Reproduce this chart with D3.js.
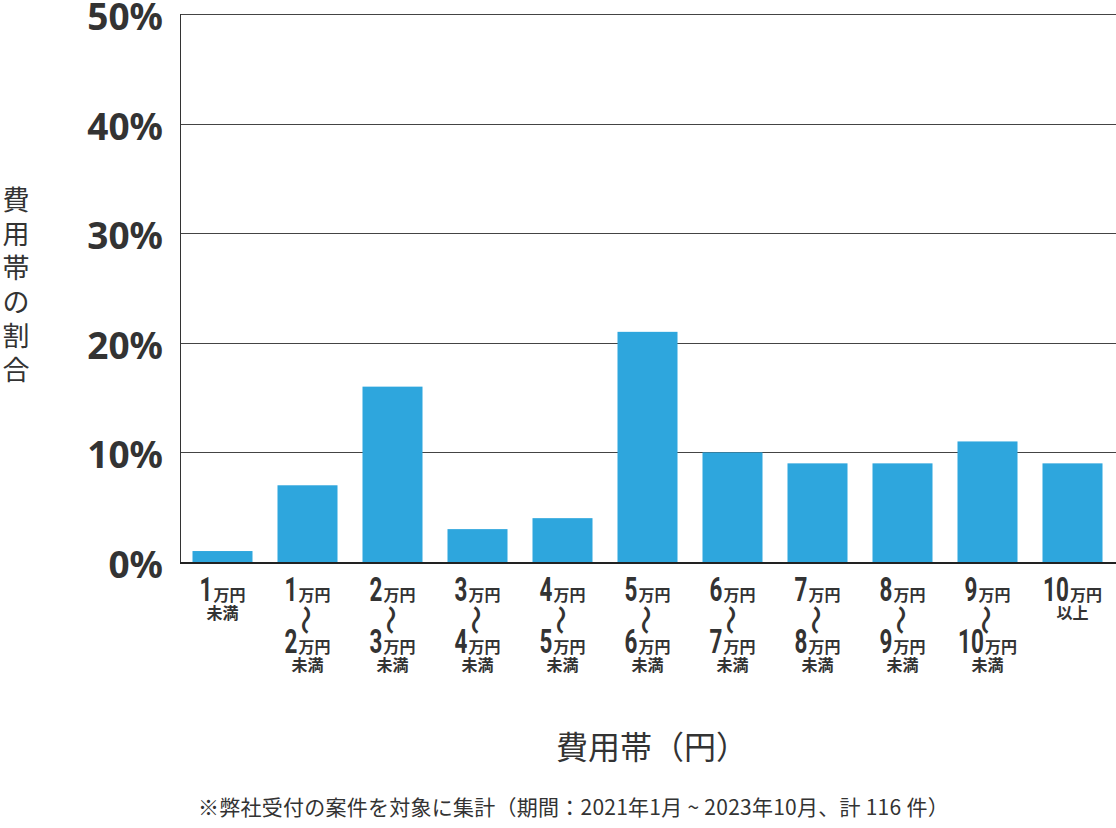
<!DOCTYPE html>
<html lang="ja">
<head>
<meta charset="UTF-8">
<title>費用帯の割合</title>
<script src="https://d3js.org/d3.v7.min.js"></script>
<style>
  body { margin: 0; background: #fff; }
  svg { display: block; }
  .cjk { font-family: "Noto Sans CJK JP", "Noto Sans", sans-serif; fill: #333; }
  .num { font-family: Roboto, "Noto Sans", sans-serif; font-weight: 700; fill: #333; }
</style>
</head>
<body>
<svg width="1116" height="828"></svg>
<script>
// data
const rangeFrom = ["1", "1", "2", "3", "4", "5", "6", "7", "8", "9", "10"];
const rangeTo = [null, "2", "3", "4", "5", "6", "7", "8", "9", "10", null];
const rangeNote = ["未満", "未満", "未満", "未満", "未満", "未満", "未満", "未満", "未満", "未満", "以上"];
const shares = [1, 7, 16, 3, 4, 21, 10, 9, 9, 11, 9];
const yTicks = [0, 10, 20, 30, 40, 50];
const yTitle = "費用帯の割合";
const xTitle = "費用帯（円）";
const footnote = "※弊社受付の案件を対象に集計（期間：2021年1月 ~ 2023年10月、計 116 件）";

const width = 1116, height = 828;
const plotL = 180, plotR = 1116, plotT = 14, plotB = 562;
const svg = d3.select("svg");

const idx = d3.range(shares.length);
const x = d3.scaleBand().domain(idx).range([plotL, 1115]).paddingInner(0.294).paddingOuter(0.147);
const y = d3.scaleLinear().domain([0, 50]).range([plotB, plotT]);

// gridlines
svg.append("g")
  .selectAll("line")
  .data(yTicks.filter(d => d > 0))
  .join("line")
  .attr("x1", plotL).attr("x2", plotR)
  .attr("y1", d => Math.round(y(d)) + 0.5).attr("y2", d => Math.round(y(d)) + 0.5)
  .attr("stroke", "#444").attr("stroke-width", 1);

// bars
svg.append("g")
  .selectAll("rect")
  .data(shares)
  .join("rect")
  .attr("x", (d, i) => x(i))
  .attr("y", d => y(d))
  .attr("width", x.bandwidth())
  .attr("height", d => y(0) - y(d))
  .attr("fill", "#2ea6dd");

// y axis line
svg.append("line")
  .attr("x1", plotL + 0.5).attr("x2", plotL + 0.5)
  .attr("y1", plotT).attr("y2", plotB)
  .attr("stroke", "#333").attr("stroke-width", 1);

// x axis line
svg.append("line")
  .attr("x1", plotL).attr("x2", plotR)
  .attr("y1", plotB + 1).attr("y2", plotB + 1)
  .attr("stroke", "#222").attr("stroke-width", 2);

// y tick labels
svg.append("g")
  .selectAll("text")
  .data(yTicks)
  .join("text")
  .attr("x", 163)
  .attr("y", d => y(d) + 16)
  .attr("text-anchor", "end")
  .attr("font-family", "'Noto Sans', sans-serif")
  .attr("font-weight", 700)
  .attr("font-size", 37)
  .attr("fill", "#333")
  .text(d => d + "%");

// y title, one char per line
svg.append("g")
  .selectAll("text")
  .data(Array.from(yTitle))
  .join("text")
  .attr("class", "cjk")
  .attr("x", 16)
  .attr("y", (d, i) => 210 + i * 34)
  .attr("text-anchor", "middle")
  .attr("font-size", 27)
  .text(d => d);

// x tick labels
const sx = 0.66;
function amountLine(g, num, base) {
  const n = g.append("text").attr("class", "num").attr("font-size", 34).text(num);
  const w1 = n.node().getComputedTextLength() * sx;
  const u = g.append("text").attr("class", "cjk").attr("font-weight", 700)
    .attr("font-size", 16).text("万円");
  const w2 = u.node().getComputedTextLength();
  const start = -(w1 + w2 + 1) / 2;
  n.attr("transform", `translate(${start},${base}) scale(${sx},1)`);
  u.attr("x", start + w1 + 1).attr("y", base);
}

svg.append("g")
  .selectAll("g")
  .data(idx)
  .join("g")
  .attr("transform", i => `translate(${x(i) + x.bandwidth() / 2},0)`)
  .each(function(i) {
    const g = d3.select(this);
    amountLine(g, rangeFrom[i], 601);
    let noteY = 619;
    if (rangeTo[i]) {
      g.append("text").attr("class", "cjk").attr("font-weight", 500)
        .attr("font-size", 30)
        .attr("transform", "translate(0,620) rotate(90)")
        .attr("text-anchor", "middle")
        .attr("dominant-baseline", "central")
        .text("〜");
      amountLine(g, rangeTo[i], 653);
      noteY = 671;
    }
    g.append("text").attr("class", "cjk").attr("font-weight", 700)
      .attr("font-size", 16)
      .attr("text-anchor", "middle")
      .attr("y", noteY)
      .text(rangeNote[i]);
  });

// x title
svg.append("text")
  .attr("class", "cjk")
  .attr("x", 652).attr("y", 759)
  .attr("text-anchor", "middle")
  .attr("font-size", 32)
  .text(xTitle);

// footnote
svg.append("text")
  .attr("class", "cjk")
  .attr("x", 198).attr("y", 815)
  .attr("font-size", 21)
  .attr("letter-spacing", 0.25)
  .text(footnote);
</script>
</body>
</html>
